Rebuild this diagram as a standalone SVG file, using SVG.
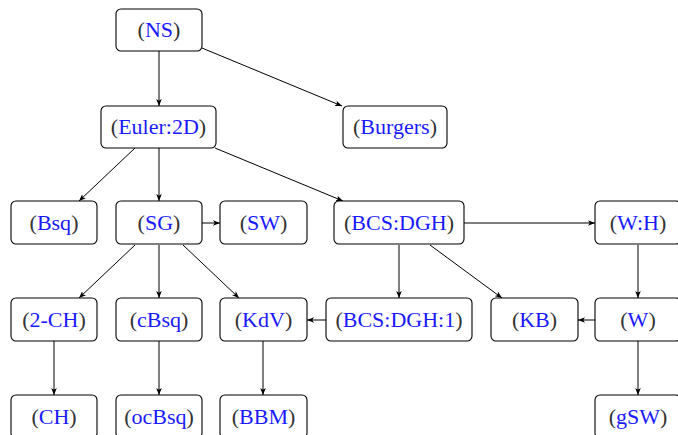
<svg xmlns="http://www.w3.org/2000/svg" width="678" height="435" viewBox="0 0 678 435">
<style>
.n rect{fill:#fff;stroke:#000;stroke-width:1.1}
.n text{font-family:"Liberation Serif",serif;font-size:22px;text-anchor:middle;fill:#1a1aff}
.p{fill:#333}
.e line{stroke:#000;stroke-width:1}
</style>
<defs>
<marker id="a" viewBox="0 0 10 8" refX="10" refY="4" markerWidth="7" markerHeight="5.6" orient="auto" markerUnits="userSpaceOnUse">
<path d="M0,0 L10,4 L0,8 L2.5,4 Z" fill="#000"/>
</marker>
</defs>
<g class="e">
<line x1="159" y1="51" x2="159" y2="106" marker-end="url(#a)"/>
<line x1="202" y1="48" x2="342" y2="106" marker-end="url(#a)"/>
<line x1="135" y1="148" x2="79" y2="201" marker-end="url(#a)"/>
<line x1="159" y1="148" x2="159" y2="201" marker-end="url(#a)"/>
<line x1="215" y1="148" x2="343" y2="201" marker-end="url(#a)"/>
<line x1="202" y1="223" x2="220" y2="223" marker-end="url(#a)"/>
<line x1="135" y1="245" x2="79" y2="298" marker-end="url(#a)"/>
<line x1="159" y1="245" x2="159" y2="298" marker-end="url(#a)"/>
<line x1="183" y1="245" x2="239" y2="298" marker-end="url(#a)"/>
<line x1="464" y1="223" x2="595" y2="223" marker-end="url(#a)"/>
<line x1="399" y1="245" x2="399" y2="298" marker-end="url(#a)"/>
<line x1="430" y1="245" x2="502" y2="298" marker-end="url(#a)"/>
<line x1="638" y1="245" x2="638" y2="298" marker-end="url(#a)"/>
<line x1="595" y1="320" x2="578" y2="320" marker-end="url(#a)"/>
<line x1="326" y1="320" x2="307" y2="320" marker-end="url(#a)"/>
<line x1="54" y1="341" x2="54" y2="395" marker-end="url(#a)"/>
<line x1="159" y1="341" x2="159" y2="395" marker-end="url(#a)"/>
<line x1="263" y1="341" x2="263" y2="395" marker-end="url(#a)"/>
<line x1="638" y1="341" x2="638" y2="395" marker-end="url(#a)"/>
</g>
<g id="NS" class="n"><rect x="116" y="9" width="86" height="42" rx="5"/><text x="159" y="37"><tspan class="p">(</tspan>NS<tspan class="p">)</tspan></text></g>
<g id="Euler2D" class="n"><rect x="101" y="106" width="115" height="42" rx="5"/><text x="158.5" y="134"><tspan class="p">(</tspan>Euler:2D<tspan class="p">)</tspan></text></g>
<g id="Burgers" class="n"><rect x="343" y="106" width="104" height="42" rx="5"/><text x="395" y="134"><tspan class="p">(</tspan>Burgers<tspan class="p">)</tspan></text></g>
<g id="Bsq" class="n"><rect x="11" y="201" width="86" height="43" rx="5"/><text x="54" y="230"><tspan class="p">(</tspan>Bsq<tspan class="p">)</tspan></text></g>
<g id="SG" class="n"><rect x="116" y="201" width="86" height="43" rx="5"/><text x="159" y="230"><tspan class="p">(</tspan>SG<tspan class="p">)</tspan></text></g>
<g id="SW" class="n"><rect x="220" y="201" width="87" height="43" rx="5"/><text x="263.5" y="230"><tspan class="p">(</tspan>SW<tspan class="p">)</tspan></text></g>
<g id="BCSDGH" class="n"><rect x="334" y="201" width="130" height="43" rx="5"/><text x="399" y="230"><tspan class="p">(</tspan>BCS:DGH<tspan class="p">)</tspan></text></g>
<g id="WH" class="n"><rect x="595" y="201" width="86" height="43" rx="5"/><text x="638" y="230"><tspan class="p">(</tspan>W:H<tspan class="p">)</tspan></text></g>
<g id="2CH" class="n"><rect x="11" y="298" width="86" height="43" rx="5"/><text x="54" y="327"><tspan class="p">(</tspan>2-CH<tspan class="p">)</tspan></text></g>
<g id="cBsq" class="n"><rect x="116" y="298" width="86" height="43" rx="5"/><text x="159" y="327"><tspan class="p">(</tspan>cBsq<tspan class="p">)</tspan></text></g>
<g id="KdV" class="n"><rect x="220" y="298" width="87" height="43" rx="5"/><text x="263.5" y="327"><tspan class="p">(</tspan>KdV<tspan class="p">)</tspan></text></g>
<g id="BCSDGH1" class="n"><rect x="326" y="298" width="146" height="43" rx="5"/><text x="399" y="327"><tspan class="p">(</tspan>BCS:DGH:1<tspan class="p">)</tspan></text></g>
<g id="KB" class="n"><rect x="491" y="298" width="87" height="43" rx="5"/><text x="534.5" y="327"><tspan class="p">(</tspan>KB<tspan class="p">)</tspan></text></g>
<g id="W" class="n"><rect x="595" y="298" width="86" height="43" rx="5"/><text x="638" y="327"><tspan class="p">(</tspan>W<tspan class="p">)</tspan></text></g>
<g id="CH" class="n"><rect x="11" y="395" width="86" height="43" rx="5"/><text x="54" y="424"><tspan class="p">(</tspan>CH<tspan class="p">)</tspan></text></g>
<g id="ocBsq" class="n"><rect x="116" y="395" width="86" height="43" rx="5"/><text x="159" y="424"><tspan class="p">(</tspan>ocBsq<tspan class="p">)</tspan></text></g>
<g id="BBM" class="n"><rect x="220" y="395" width="87" height="43" rx="5"/><text x="263.5" y="424"><tspan class="p">(</tspan>BBM<tspan class="p">)</tspan></text></g>
<g id="gSW" class="n"><rect x="595" y="395" width="86" height="43" rx="5"/><text x="638" y="424"><tspan class="p">(</tspan>gSW<tspan class="p">)</tspan></text></g>
</svg>
